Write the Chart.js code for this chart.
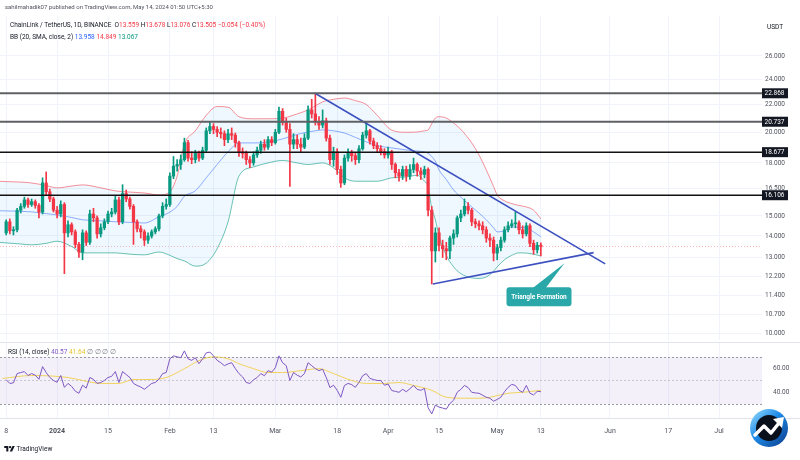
<!DOCTYPE html>
<html>
<head>
<meta charset="utf-8">
<title>LINKUSDT 1D</title>
<script src="https://cdn.jsdelivr.net/npm/chart.js@4.4.1/dist/chart.umd.min.js"></script>
<style>
  html, body { margin: 0; padding: 0; background: #fff; }
  body { position: relative; width: 800px; height: 460px; overflow: hidden; font-family: Roboto, 'Liberation Sans', sans-serif; }
  canvas { position: absolute; left: 0; }
  #priceChart { top: 0; }
  #rsiChart { top: 342px; }
  .txt { position: absolute; white-space: nowrap; font-size: 6.5px; line-height: 10px; color: #131722; }
  .red { color: #f23645; }
</style>
</head>
<body>
<canvas id="priceChart" width="800" height="342"></canvas>
<canvas id="rsiChart" width="800" height="118"></canvas>

<div class="txt" style="left:5px;top:2px;font-size:6px;color:#50535e">sahilmahadik07 published on TradingView.com, May 14, 2024 01:50 UTC+5:30</div>
<div class="txt" style="left:10px;top:20px">ChainLink / TetherUS, 1D, BINANCE&nbsp; O<span class="red">13.559</span> H<span class="red">13.678</span> L<span class="red">13.076</span> C<span class="red">13.505</span> <span class="red">−0.054 (−0.40%)</span></div>
<div class="txt" style="left:10px;top:32px">BB (20, SMA, close, 2) <span style="color:#2962ff">13.958</span> <span class="red">14.849</span> <span style="color:#089981">13.067</span></div>
<div class="txt" style="left:767px;top:22px">USDT</div>
<div class="txt" style="left:8px;top:347px">RSI (14, close) <span style="color:#7e57c2">40.57</span> <span style="color:#e6c229">41.64</span> <span style="color:#787b86">∅ ∅ ∅ ∅</span></div>
<div class="txt" style="left:4px;top:444px">
  <svg width="11" height="7" viewBox="0 0 36 24" style="vertical-align:-1px"><path d="M14 22H7V10H0V3h14z" fill="#131722"/><circle cx="20" cy="7" r="4" fill="#131722"/><path d="M28 3h8l-9 19h-8z" fill="#131722"/></svg> TradingView
</div>

<script>
// LINK/USDT 1D — 캔들 + 볼린저밴드 + 추세선 + RSI
const FONT = "Roboto, 'Liberation Sans', sans-serif";
const UP = '#089981';
const DOWN = '#f23645';
const GRID = '#f0f3fa';
const AXIS_TEXT = '#50535e';

Chart.defaults.font.family = FONT;

// x = days from 2024-01-01
const xMin = -15.7, xMax = 193.8;
const yMin = 9.79, yMax = 29.83;
const rsiMin = 18.3, rsiMax = 82.5;

// 일봉 (2023-12-18 ~ 2024-05-13)
const firstDay = -14;
const opens = [
  14.15,14.70,14.25,14.30,15.30,15.50,15.85,15.60,15.75,15.55,
  15.20,16.80,16.30,15.90,15.30,15.10,15.60,14.15,14.55,14.20,
  13.60,13.25,14.15,13.70,15.10,14.90,14.10,14.40,14.70,15.10,
  15.20,15.85,14.70,16.20,15.90,15.50,14.70,14.35,14.20,13.80,
  14.00,14.20,14.35,15.00,15.50,15.60,17.20,17.80,17.90,18.20,
  19.30,18.30,18.20,18.60,18.30,18.80,20.10,20.40,20.20,20.00,
  19.90,19.50,19.90,19.80,19.30,18.70,18.60,18.20,18.00,18.50,
  18.80,19.20,19.00,19.50,19.30,20.00,21.50,20.70,20.20,19.20,
  19.50,19.20,19.00,19.60,21.60,21.30,20.70,20.50,20.80,19.60,
  18.20,18.70,17.60,16.80,18.30,18.60,18.45,18.20,18.90,19.80,
  20.10,19.40,19.10,18.90,18.70,18.50,18.70,17.90,17.40,17.20,
  17.60,17.20,17.60,17.90,17.50,17.30,17.60,15.30,13.30,14.15,
  13.55,13.40,13.30,13.90,14.10,14.90,15.10,15.50,15.30,14.70,
  14.60,14.50,14.30,13.90,13.80,13.20,13.45,13.80,14.30,14.50,
  14.60,14.65,14.30,14.10,14.50,13.65,13.35,13.559
];
const highs = [
  14.80,14.85,14.45,15.40,15.65,16.00,15.95,15.90,15.85,15.65,
  17.10,17.45,16.45,16.00,15.50,15.80,15.70,14.75,14.65,14.30,
  13.70,14.30,14.25,15.30,15.40,15.00,14.60,14.85,15.25,15.40,
  16.05,16.00,16.70,16.40,16.00,15.60,14.80,14.50,14.30,14.15,
  14.30,14.45,15.10,15.70,15.90,17.40,18.40,18.20,18.50,19.60,
  19.45,18.70,18.80,18.75,19.00,20.30,20.70,20.60,20.40,20.30,
  20.10,20.20,20.30,19.95,19.40,18.95,18.75,18.40,18.70,19.00,
  19.40,19.50,19.70,19.70,20.20,21.80,21.70,21.00,20.60,19.90,
  19.80,19.60,19.90,21.90,22.40,22.87,21.10,21.60,21.00,19.80,
  19.00,18.90,17.80,18.50,18.90,18.80,18.60,19.10,20.00,20.70,
  20.20,19.60,19.30,19.10,18.90,19.00,18.80,18.00,17.60,17.80,
  17.80,17.90,18.30,18.00,17.70,17.80,17.70,15.50,14.40,14.40,
  13.80,13.70,14.00,14.30,15.00,15.30,15.90,15.70,15.40,14.85,
  14.75,14.70,14.45,14.10,13.95,13.60,13.95,14.45,14.70,14.80,
  15.20,14.75,14.50,14.65,14.60,13.80,13.70,13.678
];
const lows = [
  14.05,14.10,14.05,14.20,15.15,15.40,15.45,15.50,15.40,14.90,
  15.10,16.10,15.75,15.20,14.90,14.95,12.30,13.95,14.05,13.45,
  13.00,12.90,13.55,13.60,14.70,13.90,13.95,14.30,14.60,14.95,
  15.10,14.55,14.60,15.75,15.35,13.60,14.20,13.90,13.55,13.65,
  13.90,14.10,14.25,14.90,15.35,15.50,17.05,17.50,17.60,18.10,
  18.10,17.95,18.00,18.10,18.20,18.70,19.90,19.90,19.70,19.60,
  19.10,19.30,19.50,19.00,18.40,18.30,17.90,17.70,17.85,18.35,
  18.60,18.80,18.85,19.10,19.20,19.90,20.50,20.00,16.60,18.90,
  18.90,18.70,18.90,19.50,21.00,20.50,20.20,20.30,19.40,17.90,
  17.80,17.30,16.55,16.70,18.10,18.10,17.90,18.00,18.80,19.60,
  19.20,18.90,18.70,18.50,18.30,18.30,17.60,17.10,16.90,17.00,
  16.90,17.00,17.40,17.20,17.00,17.10,15.00,11.87,12.80,13.30,
  13.00,12.90,12.95,13.60,13.95,14.70,15.00,15.10,14.50,14.40,
  14.30,14.10,13.70,13.50,12.85,12.90,13.30,13.70,14.20,14.40,
  14.40,14.10,13.90,14.00,13.50,13.15,13.20,13.076
];
const closes = [
  14.70,14.25,14.30,15.30,15.50,15.85,15.60,15.75,15.55,15.20,
  16.80,16.30,15.90,15.30,15.10,15.60,14.15,14.55,14.20,13.60,
  13.25,14.15,13.70,15.10,14.90,14.10,14.40,14.70,15.10,15.20,
  15.85,14.70,16.20,15.90,15.50,14.70,14.35,14.20,13.80,14.00,
  14.20,14.35,15.00,15.50,15.60,17.20,17.80,17.90,18.20,19.30,
  18.30,18.20,18.60,18.30,18.80,20.10,20.40,20.20,20.00,19.90,
  19.50,19.90,19.80,19.30,18.70,18.60,18.20,18.00,18.50,18.80,
  19.20,19.00,19.50,19.30,20.00,21.50,20.70,20.20,19.20,19.50,
  19.20,19.00,19.60,21.60,21.30,20.70,20.50,20.80,19.60,18.20,
  18.70,17.60,16.80,18.30,18.60,18.45,18.20,18.90,19.80,20.10,
  19.40,19.10,18.90,18.70,18.50,18.70,17.90,17.40,17.20,17.60,
  17.20,17.60,17.90,17.50,17.30,17.60,15.30,13.30,14.15,13.55,
  13.40,13.30,13.90,14.10,14.90,15.10,15.50,15.30,14.70,14.60,
  14.50,14.30,13.90,13.80,13.20,13.45,13.80,14.30,14.50,14.60,
  14.65,14.30,14.10,14.50,13.65,13.35,13.559,13.505
];

// 볼린저밴드 (20, 2) — 그림에서 읽은 값
const bbDays = [-16,-14,-10,-7,-3,0,4,7,12,16,20,24,28,31,33,35,38,41,44,47,50,54,58,62,66,69,71,73,76,79,82,85,88,92,96,99,101,102,103,104,105,107,109,111,114,116,118,120,121,123,125,127,129,131,133];
const bbUpper = [16.90,16.88,16.85,16.80,16.65,16.52,16.62,16.69,16.52,16.35,16.28,16.23,16.12,16.30,17.20,19.20,20.10,21.20,21.85,21.80,21.10,20.95,20.95,21.00,21.30,21.60,21.90,22.20,22.40,22.50,22.30,22.00,21.20,20.15,20.00,20.02,20.10,20.16,20.60,21.00,21.10,21.00,20.65,20.20,19.28,18.50,17.57,16.60,16.12,15.80,15.65,15.55,15.47,15.30,14.85];
const bbBasis = [15.27,15.26,15.24,15.21,15.12,15.05,14.92,14.80,14.75,14.70,14.67,14.64,14.95,15.20,15.50,16.05,16.35,17.10,17.90,18.70,19.28,19.28,19.33,19.55,19.85,20.02,20.10,20.16,20.10,19.95,19.65,19.35,19.10,18.95,18.82,18.75,18.69,18.60,18.40,18.10,17.57,17.00,16.40,16.00,15.47,15.15,14.80,14.40,14.20,14.25,14.45,14.42,14.39,14.20,13.96];
const bbLower = [13.70,13.67,13.62,13.58,13.65,13.75,13.50,13.21,13.21,13.21,13.15,13.12,13.25,13.10,12.95,12.85,12.62,12.75,13.40,14.70,17.20,17.75,18.00,18.15,18.00,17.90,17.95,18.00,17.70,17.10,16.90,16.90,16.90,17.10,17.15,17.25,16.90,16.57,15.40,14.80,14.00,13.10,12.59,12.30,12.12,12.10,12.16,12.40,12.59,12.90,13.10,13.21,13.20,13.15,13.07];

// 수평 레벨 + 삼각수렴 추세선
const levels = [22.868, 20.737, 18.677, 16.106];
const lastClose = 13.505;
const upperTrendDays = [70.9, 150.7];
const upperTrendPrices = [22.87, 12.72];
const lowerTrendDays = [103.3, 147.5];
const lowerTrendPrices = [11.87, 13.22];

const priceTicks = [26, 24, 22, 20, 18, 16.5, 15, 14, 13, 12.2, 11.4, 10.7, 10];
const xTickDays = [-14, 0, 14, 31, 43, 60, 77, 91, 105, 121, 133, 152, 168, 182];
const xTickLabels = ['8', '2024', '15', 'Feb', '13', 'Mar', '18', 'Apr', '15', 'May', '13', 'Jun', '17', 'Jul'];

// RSI (14) — 캔들마다 한 값
const rsi = [
  50.6,47.5,48.0,55.8,56.7,57.5,54.2,55.8,54.5,51.0,
  61.7,56.7,52.5,50.0,48.5,54.2,44.2,47.5,45.0,41.0,
  39.2,46.0,43.5,52.5,51.0,47.5,48.3,50.0,52.5,53.5,
  57.5,48.3,57.5,55.0,52.5,47.5,45.8,44.5,42.5,45.0,
  47.5,48.3,51.0,55.8,56.7,68.3,70.8,70.0,69.2,75.0,
  68.3,67.0,69.2,64.2,68.3,73.3,74.0,70.8,67.0,65.0,
  62.5,64.0,65.0,60.0,55.8,53.0,48.3,47.5,50.5,52.5,
  55.8,54.0,58.3,57.0,60.8,70.8,65.0,62.5,50.0,56.7,
  54.5,53.0,55.8,65.0,62.5,60.0,58.3,59.5,52.5,44.0,
  46.0,41.7,35.8,45.8,47.5,46.5,44.2,48.5,54.0,55.8,
  51.7,50.8,50.0,50.0,46.0,47.0,41.5,40.8,40.0,42.5,
  40.5,43.0,45.8,42.5,41.7,43.3,27.0,21.7,29.2,27.5,
  26.7,25.8,30.5,33.3,40.0,42.5,45.8,44.0,40.0,39.5,
  39.2,37.5,35.8,35.0,32.5,34.0,35.8,40.5,44.2,46.7,
  45.8,41.7,40.0,45.8,39.2,37.8,40.8,40.57
];
const rsiMaDays = [-15,-7,3,7,12,17,21,26,30,35,39,43,47,50,54,58,62,67,72,76,81,85,90,94,98,103,107,112,116,119,124,128,133];
const rsiMa = [51.7,54.2,52.5,50.0,47.5,47.5,50.8,50.8,52.5,60.0,66.7,70.0,68.3,64.2,60.0,56.7,56.7,58.3,60.0,55.8,50.0,47.5,47.5,48.3,45.8,41.7,35.8,35.0,35.0,35.8,39.2,40.0,41.64];
const rsiTicks = [60, 40];
const rsiBands = [70, 50, 30];

const days = closes.map((_, i) => firstDay + i);
const candleColors = closes.map((c, i) => (c >= opens[i] ? UP : DOWN));
const pts = (xs, ys) => xs.map((x, i) => ({ x, y: ys[i] }));

// y축 라벨 때문에 생기는 상하 여백 제거
const fixWidth = (s) => { s.width = 38; s.paddingTop = 0; s.paddingBottom = 0; };

// 가격 레벨 선, 축 라벨 박스, 말풍선
const overlayPlugin = {
  id: 'overlay',
  beforeDatasetsDraw(chart) {
    const { ctx, chartArea: a, scales: { y } } = chart;
    const py = Math.round(y.getPixelForValue(lastClose)) + 0.5;
    ctx.save();
    ctx.strokeStyle = 'rgba(242,54,69,0.35)';
    ctx.setLineDash([1, 2]);
    ctx.beginPath();
    ctx.moveTo(a.left, py);
    ctx.lineTo(a.right, py);
    ctx.stroke();
    ctx.restore();
  },
  afterDatasetsDraw(chart) {
    const { ctx, chartArea: a, scales: { x, y } } = chart;
    ctx.save();
    levels.forEach((v, i) => {
      const py = y.getPixelForValue(v);
      ctx.strokeStyle = i < 2 ? '#5f6064' : '#121212';
      ctx.lineWidth = i < 2 ? 2 : 1.5;
      ctx.beginPath();
      ctx.moveTo(a.left, py);
      ctx.lineTo(a.right, py);
      ctx.stroke();
    });

    // Triangle Formation 말풍선
    const tx = x.getPixelForValue(139.5);
    const ty = y.getPixelForValue(12.75);
    const bx = tx - 58, by = ty + 24, bw = 65, bh = 19;
    ctx.fillStyle = '#2aa8a9';
    ctx.beginPath();
    ctx.moveTo(tx, ty);
    ctx.lineTo(tx - 19, by + 1);
    ctx.lineTo(tx - 32, by + 1);
    ctx.closePath();
    ctx.fill();
    ctx.beginPath();
    ctx.roundRect(bx, by, bw, bh, 3);
    ctx.fill();
    ctx.fillStyle = '#fff';
    ctx.font = `bold 6.5px ${FONT}`;
    ctx.textAlign = 'center';
    ctx.textBaseline = 'middle';
    ctx.fillText('Triangle Formation', bx + bw / 2, by + bh / 2 + 0.5);
    ctx.restore();
  },
  afterDraw(chart) {
    const { ctx, chartArea: a, scales: { y } } = chart;
    ctx.save();
    ctx.font = `6.5px ${FONT}`;
    ctx.textBaseline = 'middle';
    levels.forEach((v) => {
      const py = y.getPixelForValue(v);
      ctx.fillStyle = '#131722';
      ctx.fillRect(a.right, py - 5, 26, 10);
      ctx.fillStyle = '#fff';
      ctx.fillText(v.toFixed(3), a.right + 2.5, py + 0.5);
    });
    ctx.restore();
  },
};

new Chart(document.getElementById('priceChart'), {
  type: 'bar',
  data: {
    datasets: [
      { type: 'line', data: pts(upperTrendDays, upperTrendPrices), borderColor: '#3c50c0', borderWidth: 1.6, pointRadius: 0, order: -2 },
      { type: 'line', data: pts(lowerTrendDays, lowerTrendPrices), borderColor: '#3c50c0', borderWidth: 1.6, pointRadius: 0, order: -2 },
      {
        data: days.map((d, i) => ({ x: d, y: [opens[i], closes[i]] })),
        backgroundColor: candleColors, barThickness: 2.6, grouped: false, minBarLength: 1, order: 0,
      },
      {
        data: days.map((d, i) => ({ x: d, y: [lows[i], highs[i]] })),
        backgroundColor: candleColors, barThickness: 1, grouped: false, order: 1,
      },
      {
        type: 'line', data: pts(bbDays, bbUpper), borderColor: 'rgba(242,54,69,0.55)', borderWidth: 1,
        pointRadius: 0, cubicInterpolationMode: 'monotone', fill: '+2', backgroundColor: 'rgba(33,150,243,0.07)', order: 4,
      },
      {
        type: 'line', data: pts(bbDays, bbBasis), borderColor: 'rgba(41,98,255,0.5)', borderWidth: 1,
        pointRadius: 0, cubicInterpolationMode: 'monotone', fill: false, order: 3,
      },
      {
        type: 'line', data: pts(bbDays, bbLower), borderColor: 'rgba(8,153,129,0.6)', borderWidth: 1,
        pointRadius: 0, cubicInterpolationMode: 'monotone', fill: false, order: 2,
      },
    ],
  },
  options: {
    responsive: false,
    animation: false,
    layout: { padding: { top: 16, bottom: 2, left: 0, right: 0 } },
    plugins: { legend: { display: false }, tooltip: { enabled: false } },
    scales: {
      x: {
        type: 'linear', min: xMin, max: xMax, offset: false,
        grid: { color: GRID, drawTicks: false, offset: false },
        border: { display: false },
        ticks: { display: false },
        afterBuildTicks: (s) => { s.ticks = xTickDays.map((v) => ({ value: v })); },
        afterFit: (s) => { s.height = 0; s.paddingLeft = 0; s.paddingRight = 0; },
      },
      y: {
        type: 'logarithmic', position: 'right', min: yMin, max: yMax,
        grid: { color: GRID, drawTicks: false },
        border: { display: false },
        ticks: { color: AXIS_TEXT, font: { size: 6.5 }, padding: 3, callback: (v) => Number(v).toFixed(3) },
        afterBuildTicks: (s) => { s.ticks = priceTicks.map((v) => ({ value: v })); },
        afterFit: fixWidth,
      },
    },
  },
  plugins: [overlayPlugin],
});

// RSI 영역: 30~70 밴드, 구분선, 로고
const rsiPlugin = {
  id: 'rsiBand',
  beforeDatasetsDraw(chart) {
    const { ctx, chartArea: a, scales: { y } } = chart;
    const top = y.getPixelForValue(rsiBands[0]);
    const bot = y.getPixelForValue(rsiBands[2]);
    ctx.save();
    ctx.fillStyle = 'rgba(126,87,194,0.09)';
    ctx.fillRect(a.left, top, a.right - a.left, bot - top);
    ctx.setLineDash([2, 2]);
    rsiBands.forEach((v, i) => {
      const py = Math.round(y.getPixelForValue(v)) + 0.5;
      ctx.strokeStyle = i === 1 ? 'rgba(120,123,134,0.35)' : 'rgba(120,123,134,0.75)';
      ctx.beginPath();
      ctx.moveTo(a.left, py);
      ctx.lineTo(a.right, py);
      ctx.stroke();
    });
    ctx.restore();
  },
  afterDraw(chart) {
    const { ctx, chartArea: a, width } = chart;
    ctx.save();
    ctx.strokeStyle = '#e0e3eb';
    ctx.beginPath();
    ctx.moveTo(0, 0.5); ctx.lineTo(width, 0.5);
    ctx.moveTo(0, a.bottom + 0.5); ctx.lineTo(width, a.bottom + 0.5);
    ctx.stroke();

    // 우하단 로고
    const cx = 769, cy = 86;
    const g = ctx.createLinearGradient(cx - 19, cy - 19, cx + 19, cy + 19);
    g.addColorStop(0, '#9be0ff');
    g.addColorStop(0.45, '#1e8ae6');
    g.addColorStop(1, '#0b3a8a');
    ctx.fillStyle = g;
    ctx.beginPath(); ctx.arc(cx, cy, 19, 0, Math.PI * 2); ctx.fill();
    ctx.fillStyle = '#0a0f1c';
    ctx.beginPath(); ctx.arc(cx, cy, 13, 0, Math.PI * 2); ctx.fill();
    ctx.strokeStyle = '#fff';
    ctx.lineWidth = 3.5;
    ctx.lineJoin = 'round';
    ctx.lineCap = 'round';
    ctx.beginPath();
    ctx.moveTo(cx - 14, cy + 7);
    ctx.lineTo(cx - 5, cy - 2);
    ctx.lineTo(cx + 2, cy + 5);
    ctx.lineTo(cx + 10, cy - 5);
    ctx.stroke();
    ctx.fillStyle = '#fff';
    ctx.beginPath();
    ctx.moveTo(cx + 15, cy - 11);
    ctx.lineTo(cx + 4, cy - 9);
    ctx.lineTo(cx + 13, cy);
    ctx.closePath();
    ctx.fill();
    ctx.restore();
  },
};

new Chart(document.getElementById('rsiChart'), {
  type: 'line',
  data: {
    datasets: [
      { data: days.map((d, i) => ({ x: d, y: rsi[i] })), borderColor: '#7e57c2', borderWidth: 1, pointRadius: 0, order: 0 },
      { data: pts(rsiMaDays, rsiMa), borderColor: 'rgba(240,200,40,0.75)', borderWidth: 1, pointRadius: 0, cubicInterpolationMode: 'monotone', order: 1 },
    ],
  },
  options: {
    responsive: false,
    animation: false,
    layout: { padding: { top: 0, bottom: 20, left: 0, right: 0 } },
    plugins: { legend: { display: false }, tooltip: { enabled: false } },
    scales: {
      x: {
        type: 'linear', min: xMin, max: xMax,
        grid: { color: GRID, drawTicks: false },
        border: { display: false },
        ticks: {
          autoSkip: false, maxRotation: 0, padding: 9, color: AXIS_TEXT,
          font: (c) => ({ size: 7, weight: c.tick && c.tick.value === 0 ? 'bold' : 'normal' }),
          callback: (v, i) => xTickLabels[i],
        },
        afterBuildTicks: (s) => { s.ticks = xTickDays.map((v) => ({ value: v })); },
        afterFit: (s) => { s.height = 22; s.paddingLeft = 0; s.paddingRight = 0; },
      },
      y: {
        position: 'right', min: rsiMin, max: rsiMax,
        grid: { display: false },
        border: { display: false },
        ticks: { color: AXIS_TEXT, font: { size: 6.5 }, padding: 3, callback: (v) => Number(v).toFixed(2) },
        afterBuildTicks: (s) => { s.ticks = rsiTicks.map((v) => ({ value: v })); },
        afterFit: fixWidth,
      },
    },
  },
  plugins: [rsiPlugin],
});
</script>
</body>
</html>
